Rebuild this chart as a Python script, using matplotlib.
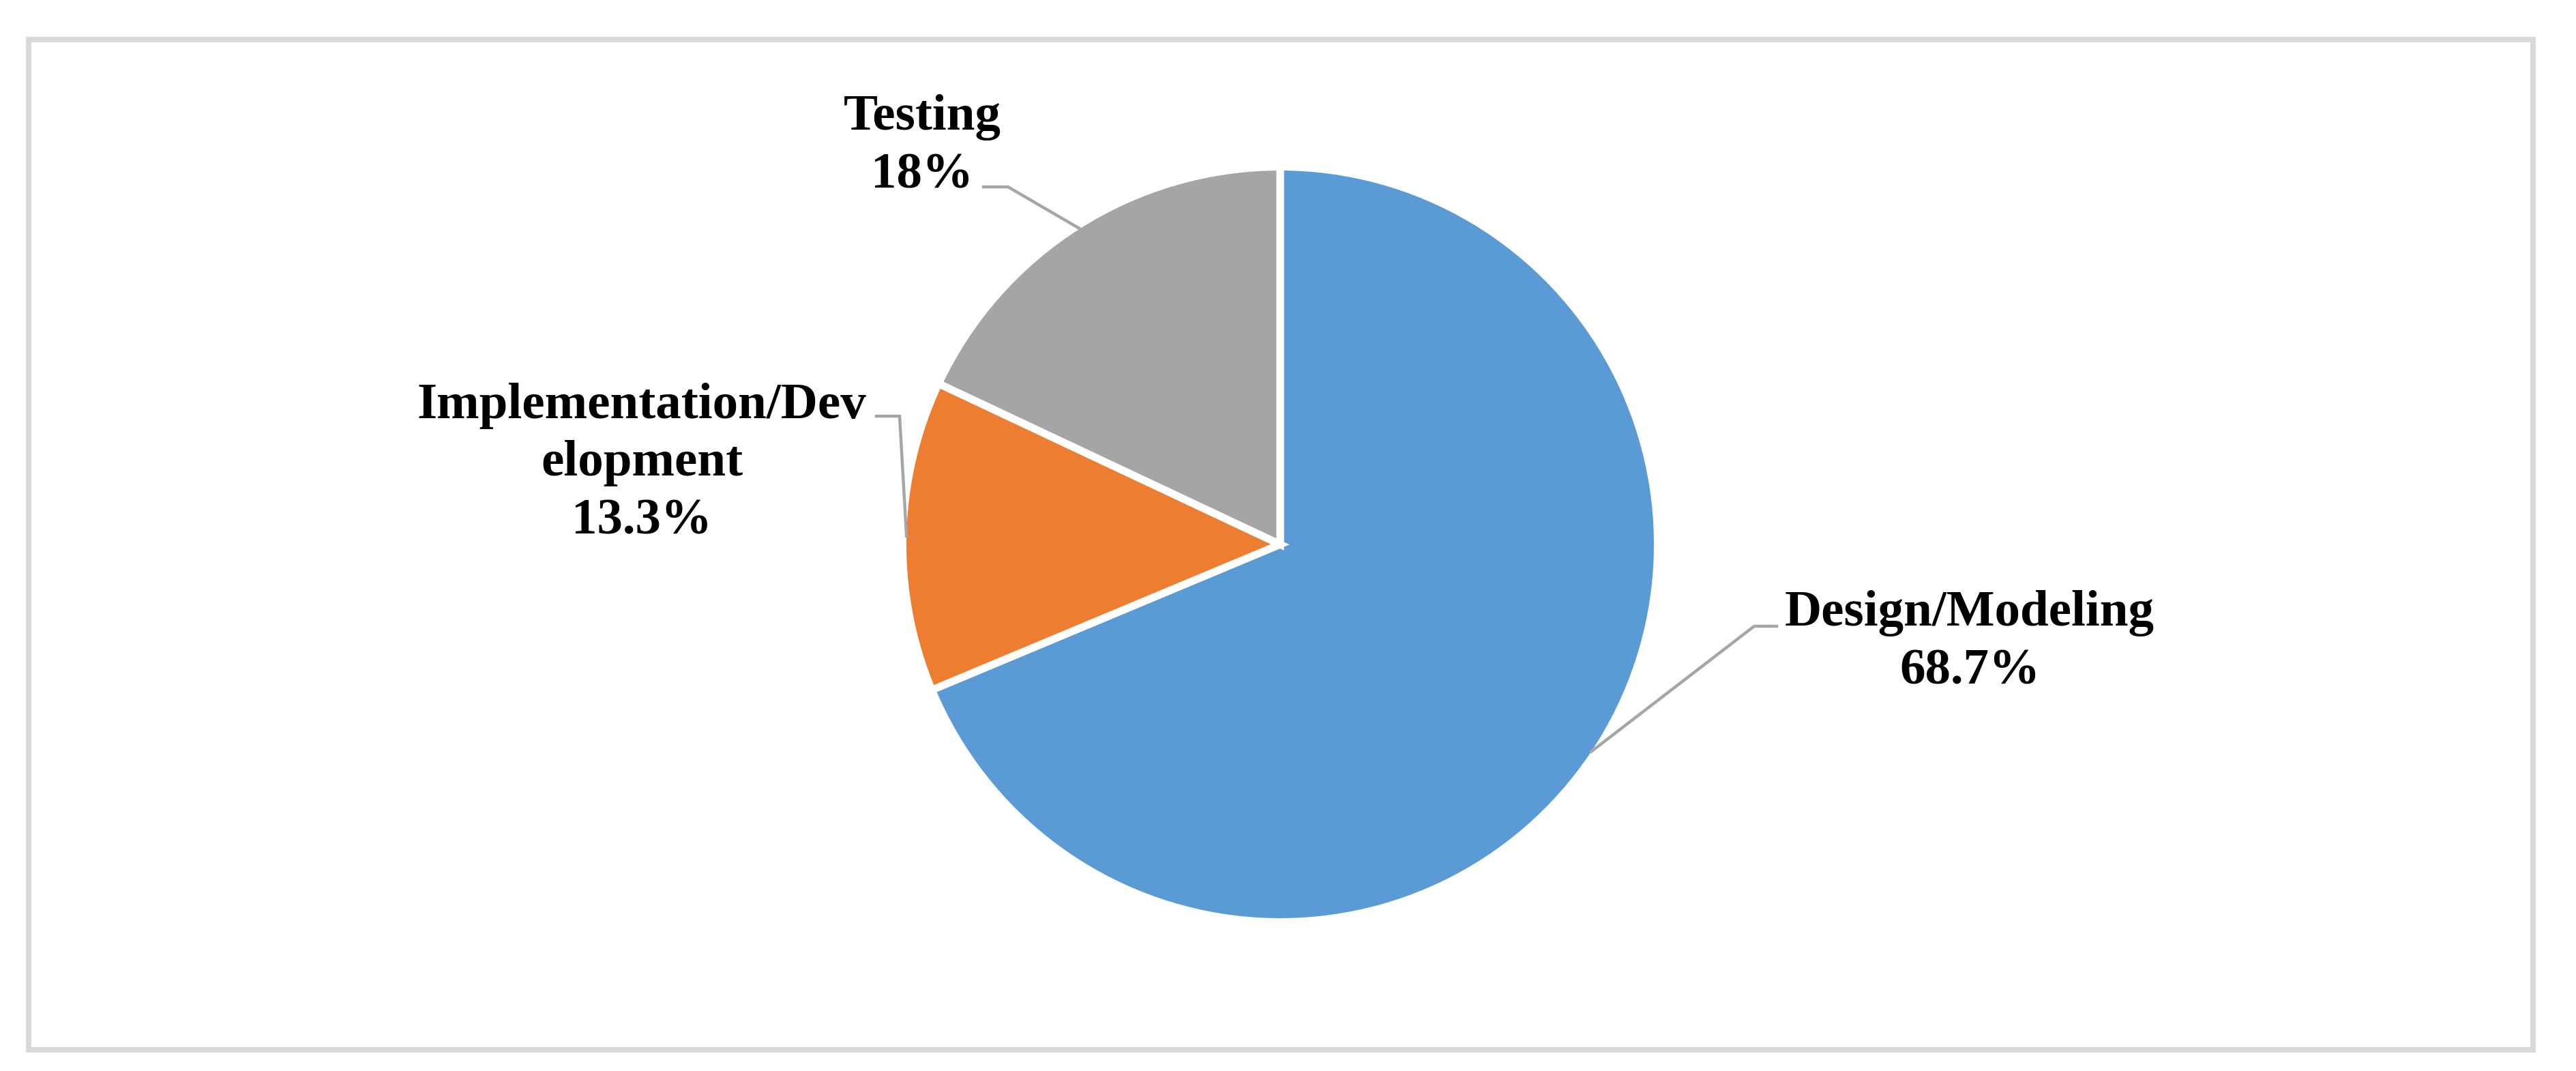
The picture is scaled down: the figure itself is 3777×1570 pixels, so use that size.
#!/usr/bin/env python3
"""Pie chart: share of effort by phase."""
import numpy as np
import matplotlib
matplotlib.use("Agg")
import matplotlib.pyplot as plt
from matplotlib.patches import Rectangle

# data
labels = ["Design/Modeling", "Implementation/Dev\nelopment", "Testing"]
shares = [68.7, 13.3, 18.0]
share_text = ["68.7%", "13.3%", "18%"]
colors = ["#5B9BD5", "#ED7D31", "#A5A5A5"]

W, H, DPI = 3777, 1570, 100
CX, CY, R = 1877, 798, 548  # pie centre / radius in pixels


def px(x, y):
    """pixel position (from top-left) -> data units (pie radius = 1)"""
    return (x - CX) / R, (CY - y) / R


fig = plt.figure(figsize=(W / DPI, H / DPI), dpi=DPI)
fig.patch.set_facecolor("white")
ax = fig.add_axes([0, 0, 1, 1])

edge_lw = 8
wedges, _ = ax.pie(
    shares, colors=colors, startangle=90, counterclock=False,
    radius=1 + (edge_lw * DPI / 72 / 2) / R,
    wedgeprops=dict(edgecolor="white", linewidth=edge_lw),
)
# pie() resets limits/aspect, so map data units to pixels afterwards
ax.set_aspect("auto")
ax.set_xlim(-CX / R, (W - CX) / R)
ax.set_ylim(-(H - CY) / R, CY / R)
ax.axis("off")

# label layout: text centre x, last-line baseline y, leader start, leader elbow
layout = [
    dict(tx=2888, ty=1002, start=(2605, 918), elbow=(2572, 918)),
    dict(tx=941, ty=782, start=(1285, 610), elbow=(1319, 610)),
    dict(tx=1352, ty=275, start=(1442, 274), elbow=(1478, 274)),
]

font = dict(family="Liberation Serif", weight="bold", size=54, color="black")
for w, lab, pct, lay in zip(wedges, labels, share_text, layout):
    mid = np.deg2rad((w.theta1 + w.theta2) / 2)
    ex, ey = np.cos(mid), np.sin(mid)
    sx, sy = px(*lay["start"])
    bx, by = px(*lay["elbow"])
    ax.plot([sx, bx, ex], [sy, by, ey], color="#A6A6A6", lw=3.2,
            solid_joinstyle="miter", zorder=1)
    x, y = px(lay["tx"], lay["ty"])
    ax.text(x, y, f"{lab}\n{pct}", ha="center", va="baseline",
            multialignment="center", linespacing=1.32, **font)

# light grey chart frame
frame = Rectangle((42 / W, 1 - 1539 / H), (3714 - 42) / W, (1539 - 58) / H,
                  transform=fig.transFigure, fill=False,
                  edgecolor="#D9D9D9", lw=8 * 72 / DPI)
fig.patches.append(frame)

fig.savefig("out.png", dpi=DPI, facecolor="white")
plt.close(fig)
